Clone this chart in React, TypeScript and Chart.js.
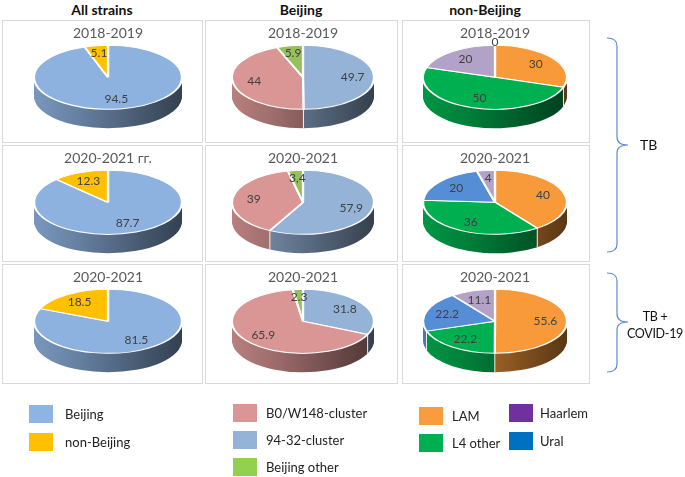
import { useEffect, useRef } from 'react'
import { Chart, registerables } from 'chart.js'

Chart.register(...registerables)

const FONT = 'Lato, "Open Sans", sans-serif'

// column headers and panel titles
const columnTitles = ['All strains', 'Beijing', 'non-Beijing']
const periodTitles = [
  ['2018-2019', '2018-2019', '2018-2019'],
  ['2020-2021 гг.', '2020-2021', '2020-2021'],
  ['2020-2021', '2020-2021', '2020-2021'],
]

// all strains
const strainLabels = ['Beijing', 'non-Beijing']
const allStrains1819 = [94.5, 5.1]
const allStrains2021 = [87.7, 12.3]
const allStrainsCovid = [81.5, 18.5]

// Beijing genotype
const beijingLabels = ['94-32-cluster', 'B0/W148-cluster', 'Beijing other']
const beijing1819 = [49.7, 44, 5.9]
const beijing2021 = [57.9, 39, 3.4]
const beijingCovid = [31.8, 65.9, 2.3]

// non-Beijing genotypes
const nonBeijingLabels1819 = ['LAM', 'L4 other', 'Haarlem', 'Ural']
const nonBeijing1819 = [30, 50, 20, 0]
const nonBeijingLabels = ['LAM', 'L4 other', 'Ural', 'Haarlem']
const nonBeijing2021 = [40, 36, 20, 4]
const nonBeijingCovid = [55.6, 22.2, 22.2, 11.1]

const pieColors: Record<string, string> = {
  Beijing: '#8EB2DF',
  'non-Beijing': '#FFC000',
  '94-32-cluster': '#95B3D7',
  'B0/W148-cluster': '#D99694',
  'Beijing other': '#97C05A',
  LAM: '#F89A3A',
  'L4 other': '#00B050',
  Haarlem: '#B3A2C7',
  Ural: '#558ED5',
}

const legendColors: Record<string, string> = {
  Beijing: '#8DB4E2',
  'non-Beijing': '#FFC000',
  'B0/W148-cluster': '#DA9694',
  '94-32-cluster': '#95B3D7',
  'Beijing other': '#92D050',
  LAM: '#F89C3E',
  'L4 other': '#00B050',
  Haarlem: '#7030A0',
  Ural: '#0070C0',
}

const panels = [
  { row: 0, col: 0, labels: strainLabels, values: allStrains1819 },
  { row: 0, col: 1, labels: beijingLabels, values: beijing1819 },
  { row: 0, col: 2, labels: nonBeijingLabels1819, values: nonBeijing1819 },
  { row: 1, col: 0, labels: strainLabels, values: allStrains2021 },
  { row: 1, col: 1, labels: beijingLabels, values: beijing2021, comma: true },
  { row: 1, col: 2, labels: nonBeijingLabels, values: nonBeijing2021 },
  { row: 2, col: 0, labels: strainLabels, values: allStrainsCovid },
  { row: 2, col: 1, labels: beijingLabels, values: beijingCovid },
  { row: 2, col: 2, labels: nonBeijingLabels, values: nonBeijingCovid },
]

// box geometry
const colX = [2, 205, 402]
const colW = [201, 193, 188]
const rowY = [20, 145, 264]
const rowH = [123, 117, 120]
const pieCx = [105, 97, 92]
const pieRx = [74, 71, 72]

function shade(hex: string, f: number) {
  const n = parseInt(hex.slice(1), 16)
  const r = Math.round(((n >> 16) & 255) * f)
  const g = Math.round(((n >> 8) & 255) * f)
  const b = Math.round((n & 255) * f)
  return `rgb(${r},${g},${b})`
}

// flattens the pie into an ellipse and extrudes a side wall
const pie3d = {
  id: 'pie3d',
  beforeDatasetsDraw(chart: any, _args: unknown, opts: any) {
    const arcs = chart.getDatasetMeta(0).data as any[]
    if (!arcs.length) return
    const { x, y, outerRadius: r } = arcs[0]
    const k = opts.rx / r
    const ctx = chart.ctx as CanvasRenderingContext2D
    const colors = chart.data.datasets[0].backgroundColor as string[]
    ctx.save()
    chart.$pie3dSaved = true
    ctx.translate(x, y)
    ctx.scale(k, 1)
    ctx.translate(-x, -y)
    const fills = colors.map((c) => {
      const g = ctx.createLinearGradient(x - r, 0, x + r, 0)
      g.addColorStop(0, shade(c, 0.85))
      g.addColorStop(0.3, shade(c, 0.72))
      g.addColorStop(1, shade(c, 0.36))
      return g
    })
    for (let d = opts.depth; d >= 1; d--) {
      arcs.forEach((arc, i) => {
        if (arc.endAngle - arc.startAngle <= 0) return
        ctx.beginPath()
        ctx.moveTo(x, y + d)
        ctx.arc(x, y + d, r, arc.startAngle, arc.endAngle)
        ctx.closePath()
        ctx.fillStyle = fills[i]
        ctx.fill()
      })
    }
  },
  afterDatasetsDraw(chart: any, _args: unknown, opts: any) {
    const ctx = chart.ctx as CanvasRenderingContext2D
    if (chart.$pie3dSaved) {
      ctx.restore()
      chart.$pie3dSaved = false
    }
    const arcs = chart.getDatasetMeta(0).data as any[]
    if (!arcs.length) return
    const { x, y, outerRadius: r } = arcs[0]
    const k = opts.rx / r
    const values = chart.data.datasets[0].data as number[]
    const total = values.reduce((a, b) => a + b, 0)

    // seams on the side wall
    ctx.save()
    ctx.strokeStyle = 'rgba(255,255,255,0.9)'
    ctx.lineWidth = 1
    arcs.forEach((arc) => {
      if (arc.endAngle - arc.startAngle <= 0) return
      const a = arc.startAngle
      if (Math.sin(a) > 0.05) {
        const px = x + k * r * Math.cos(a)
        const py = y + r * Math.sin(a)
        ctx.beginPath()
        ctx.moveTo(px, py)
        ctx.lineTo(px, py + opts.depth)
        ctx.stroke()
      }
    })

    // value labels
    ctx.fillStyle = '#404040'
    ctx.font = `12px ${FONT}`
    ctx.textAlign = 'center'
    ctx.textBaseline = 'middle'
    arcs.forEach((arc, i) => {
      const v = values[i]
      const mid = (arc.startAngle + arc.endAngle) / 2
      const share = v / total
      const f = v === 0 ? 1.1 : share < 0.08 ? 0.76 : 0.7
      const px = x + k * f * r * Math.cos(mid)
      const py = y + f * r * Math.sin(mid)
      let text = String(v)
      if (opts.comma) text = text.replace('.', ',')
      ctx.fillText(text, px, py)
    })
    ctx.restore()
  },
}

function PiePanel({ panel, title }: { panel: (typeof panels)[number]; title: string }) {
  const canvasRef = useRef<HTMLCanvasElement>(null)
  const w = colW[panel.col] - 2
  const h = rowH[panel.row] - 2

  useEffect(() => {
    if (!canvasRef.current) return
    const cx = pieCx[panel.col]
    const padL = Math.max(0, 2 * cx - w)
    const padR = Math.max(0, w - 2 * cx)
    const chart = new Chart(canvasRef.current, {
      type: 'pie',
      data: {
        labels: panel.labels,
        datasets: [
          {
            data: panel.values,
            backgroundColor: panel.labels.map((l) => pieColors[l]),
            borderColor: '#ffffff',
            borderWidth: 1,
          },
        ],
      },
      options: {
        responsive: false,
        animation: false,
        events: [],
        layout: { padding: { top: 0, bottom: h - 88.8, left: padL, right: padR } },
        plugins: {
          legend: { display: false },
          tooltip: { enabled: false },
          title: {
            display: true,
            text: title,
            color: '#595959',
            font: { family: FONT, size: 14, weight: 'normal' },
            padding: { top: 4, bottom: 3 },
          },
          pie3d: { rx: pieRx[panel.col], depth: 19, comma: !!panel.comma },
        },
      },
      plugins: [pie3d],
    } as any)
    return () => chart.destroy()
  }, [panel, title, w, h])

  return (
    <div
      style={{
        position: 'absolute',
        left: colX[panel.col],
        top: rowY[panel.row],
        width: colW[panel.col] - 2,
        height: rowH[panel.row] - 2,
        border: '1px solid #d9d9d9',
        background: '#fff',
      }}
    >
      <canvas ref={canvasRef} width={w} height={h} style={{ display: 'block' }} />
    </div>
  )
}

const legendItems = [
  { label: 'Beijing', x: 29, y: 405 },
  { label: 'non-Beijing', x: 29, y: 433 },
  { label: 'B0/W148-cluster', x: 233, y: 404 },
  { label: '94-32-cluster', x: 233, y: 431 },
  { label: 'Beijing other', x: 233, y: 458 },
  { label: 'LAM', x: 419, y: 407 },
  { label: 'L4 other', x: 419, y: 434 },
  { label: 'Haarlem', x: 509, y: 404 },
  { label: 'Ural', x: 509, y: 432 },
]

const headerCenters = [102, 301, 485]

export default function App() {
  const braceColor = '#5B8BD0'
  return (
    <div
      style={{
        position: 'absolute',
        left: 0,
        top: 0,
        width: 685,
        height: 477,
        overflow: 'hidden',
        background: '#fff',
        fontFamily: FONT,
      }}
    >
      {columnTitles.map((t, i) => (
        <div
          key={t}
          style={{
            position: 'absolute',
            left: headerCenters[i] - 80,
            width: 160,
            top: 1,
            textAlign: 'center',
            fontWeight: 'bold',
            fontSize: 14,
            lineHeight: '18px',
            color: '#111',
          }}
        >
          {t}
        </div>
      ))}

      {panels.map((p) => (
        <PiePanel key={`${p.row}-${p.col}`} panel={p} title={periodTitles[p.row][p.col]} />
      ))}

      <svg
        width={685}
        height={477}
        style={{ position: 'absolute', left: 0, top: 0, pointerEvents: 'none' }}
      >
        <path
          d="M607,38 Q617,38 617,46 L617,137 Q617,145 628,145 Q617,145 617,153 L617,244 Q617,252 607,252"
          fill="none"
          stroke={braceColor}
          strokeWidth={1.2}
        />
        <path
          d="M607,273 Q617,273 617,281 L617,314 Q617,322 628,322 Q617,322 617,330 L617,364 Q617,372 607,372"
          fill="none"
          stroke={braceColor}
          strokeWidth={1.2}
        />
      </svg>
      <div style={{ position: 'absolute', left: 640, top: 136, fontSize: 14, lineHeight: '18px', color: '#111' }}>
        TB
      </div>
      <div
        style={{
          position: 'absolute',
          left: 613,
          width: 84,
          top: 308,
          textAlign: 'center',
          fontSize: 12.5,
          letterSpacing: -0.3,
          lineHeight: '17px',
          color: '#111',
        }}
      >
        TB +
        <br />
        COVID-19
      </div>

      {legendItems.map((it) => (
        <div key={it.label}>
          <div
            style={{
              position: 'absolute',
              left: it.x,
              top: it.y,
              width: 24,
              height: 18,
              background: legendColors[it.label],
            }}
          />
          <div
            style={{
              position: 'absolute',
              left: it.x + (it.x === 29 ? 36 : it.x === 509 ? 31 : 33),
              top: it.y + 1,
              fontSize: 13,
              lineHeight: '16px',
              color: '#222',
              whiteSpace: 'nowrap',
            }}
          >
            {it.label}
          </div>
        </div>
      ))}
    </div>
  )
}
